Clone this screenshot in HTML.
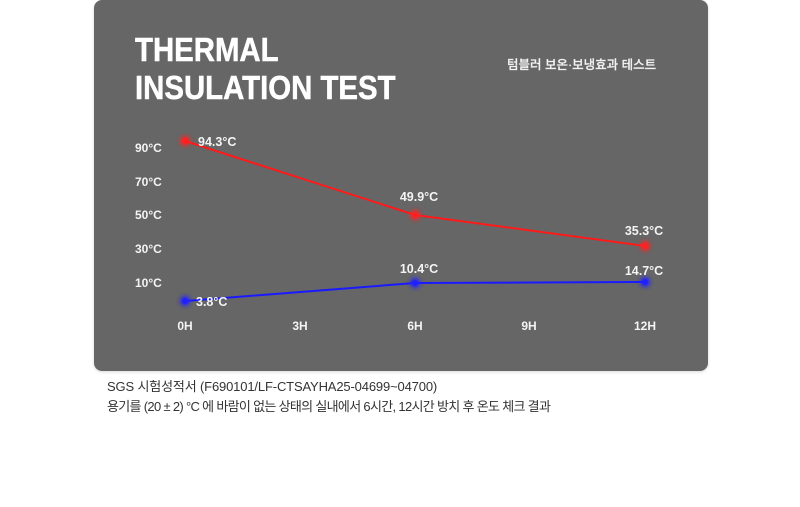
<!DOCTYPE html>
<html>
<head>
<meta charset="utf-8">
<style>
  html, body { margin:0; padding:0; background:#ffffff; }
  body { width:800px; height:507px; position:relative; overflow:hidden; font-family:"Liberation Sans","Noto Sans CJK KR",sans-serif; }
  .box { position:absolute; left:94px; top:0px; width:614px; height:371px; background:#666666; border-radius:8px; box-shadow:0 1px 3px rgba(0,0,0,0.15); }
  .title { position:absolute; left:135px; top:31px; color:#ffffff; font-weight:bold; font-size:33px; line-height:38px; white-space:nowrap; -webkit-text-stroke:0.5px #ffffff; }
  .title span { display:inline-block; transform:scaleX(0.89); transform-origin:left center; }
  .sub { position:absolute; left:507px; top:56px; color:#f2f2f2; font-family:"Liberation Sans","Noto Sans CJK KR",sans-serif; font-size:12.5px; font-weight:500; white-space:nowrap; line-height:18px; -webkit-text-stroke:0.2px #f2f2f2; }
  svg { position:absolute; left:0; top:0; }
  .foot { position:absolute; left:107px; color:#333333; font-family:"Liberation Sans","Noto Sans CJK KR",sans-serif; font-size:13px; white-space:nowrap; line-height:18px; }
</style>
</head>
<body>
<div class="box"></div>
<div class="title"><span>THERMAL</span><br><span>INSULATION TEST</span></div>
<div class="sub">텀블러 보온·보냉효과 테스트</div>

<svg width="800" height="507" viewBox="0 0 800 507">
  <defs>
    <filter id="glow" x="-100%" y="-100%" width="300%" height="300%">
      <feGaussianBlur stdDeviation="2.2"/>
    </filter>
  </defs>
  <g font-family="Liberation Sans, sans-serif" font-weight="bold" font-size="12" fill="#f4f4f4">
    <text x="135" y="152">90°C</text>
    <text x="135" y="186">70°C</text>
    <text x="135" y="219">50°C</text>
    <text x="135" y="253">30°C</text>
    <text x="135" y="287">10°C</text>
  </g>
  <g font-family="Liberation Sans, sans-serif" font-weight="bold" font-size="12" fill="#f4f4f4" text-anchor="middle">
    <text x="185" y="330">0H</text>
    <text x="300" y="330">3H</text>
    <text x="415" y="330">6H</text>
    <text x="529" y="330">9H</text>
    <text x="645" y="330">12H</text>
  </g>
  <polyline points="185,141 415,215 645,246" fill="none" stroke="#ff1a1a" stroke-width="2"/>
  <polyline points="185,301 415,283 645,282" fill="none" stroke="#1a1aff" stroke-width="2"/>
  <g fill="#ff2020">
    <circle cx="185" cy="141" r="5" filter="url(#glow)"/>
    <circle cx="415" cy="215" r="5" filter="url(#glow)"/>
    <circle cx="645" cy="246" r="5" filter="url(#glow)"/>
    <circle cx="185" cy="141" r="3"/>
    <circle cx="415" cy="215" r="3"/>
    <circle cx="645" cy="246" r="3"/>
  </g>
  <g fill="#2020ff">
    <circle cx="185" cy="301" r="5" filter="url(#glow)"/>
    <circle cx="415" cy="283" r="5" filter="url(#glow)"/>
    <circle cx="645" cy="282" r="5" filter="url(#glow)"/>
    <circle cx="185" cy="301" r="3"/>
    <circle cx="415" cy="283" r="3"/>
    <circle cx="645" cy="282" r="3"/>
  </g>
  <g font-family="Liberation Sans, sans-serif" font-weight="bold" font-size="12.5" fill="#f4f4f4">
    <text x="198" y="146">94.3°C</text>
    <text x="196" y="306">3.8°C</text>
  </g>
  <g font-family="Liberation Sans, sans-serif" font-weight="bold" font-size="12.5" fill="#f4f4f4" text-anchor="middle">
    <text x="419" y="201">49.9°C</text>
    <text x="644" y="235">35.3°C</text>
    <text x="419" y="273">10.4°C</text>
    <text x="644" y="275">14.7°C</text>
  </g>
</svg>

<div class="foot" style="top:378px; letter-spacing:-0.15px;">SGS 시험성적서 (F690101/LF-CTSAYHA25-04699~04700)</div>
<div class="foot" style="top:398px; letter-spacing:-0.68px;">용기를 (20 ± 2) °C 에 바람이 없는 상태의 실내에서 6시간, 12시간 방치 후 온도 체크 결과</div>
</body>
</html>
